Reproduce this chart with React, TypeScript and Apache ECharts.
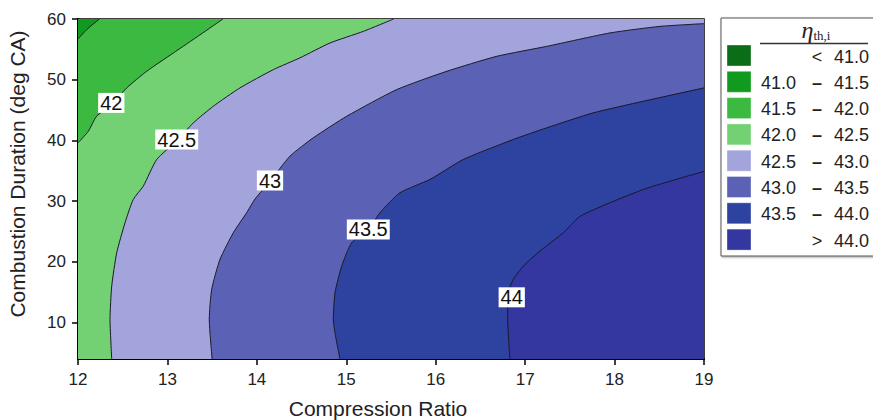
import React, { useEffect, useRef } from "react";
import * as echarts from "echarts";

// Axis extents and ticks
const X_MIN = 12;
const X_MAX = 19;
const Y_MIN = 4;
const Y_MAX = 60;
const yTicks = [10, 20, 30, 40, 50, 60];

// Iso-efficiency contour lines, [compression ratio, combustion duration]
const contour415 = [[12.0, 56.7], [12.1, 58.3], [12.24, 60]];
const contour42 = [
  [12.0, 39.6], [12.115, 41.5], [12.209, 44.0], [12.377, 45.9], [12.545, 48.65],
  [12.769, 51.4], [13.066, 54.4], [13.365, 57.4], [13.62, 60],
];
const contour425 = [
  [15.53, 60], [15.19, 57.96], [14.818, 56.05], [14.482, 53.6], [14.184, 51.66],
  [13.811, 48.65], [13.513, 45.63], [13.29, 42.9], [13.1, 39.87], [12.88, 36.86],
  [12.73, 32.47], [12.618, 30.28], [12.526, 26.45], [12.433, 21.5], [12.377, 16.0],
  [12.358, 10.54], [12.377, 4],
];
const contour43 = [
  [13.5, 4], [13.468, 10.54], [13.495, 15.48], [13.588, 20.41], [13.737, 24.8],
  [13.886, 28.09], [13.98, 30.36], [14.147, 33.24], [14.37, 37.4], [14.631, 40.43],
  [15.005, 43.98], [15.564, 48.37], [16.123, 51.38], [16.682, 53.85], [17.241, 55.49],
  [17.949, 57.7], [18.508, 58.78], [19, 59.23],
];
const contour435 = [
  [14.93, 4], [14.855, 10.54], [14.874, 14.93], [14.949, 19.31], [15.06, 23.16],
  [15.246, 25.35], [15.377, 28.09], [15.6, 31.38], [15.936, 33.57], [16.308, 36.86],
  [16.867, 40.15], [17.241, 42.07], [17.762, 44.54], [18.321, 46.45], [19, 48.65],
];
const contour44 = [
  [16.83, 4], [16.805, 10.54], [16.81, 14.93], [16.868, 17.12], [16.98, 19.31],
  [17.166, 21.78], [17.427, 24.8], [17.613, 27.48], [17.949, 29.74], [18.321, 31.92],
  [18.62, 33.29], [19, 34.9],
];
const contourLines = [contour415, contour42, contour425, contour43, contour435, contour44];

// In-plot contour labels
const labelLevels = [42, 42.5, 43, 43.5, 44];
const labelX = [12.372, 13.104, 14.147, 15.246, 16.85];
const labelY = [46.18, 40.15, 33.4, 25.35, 14.16];

// Legend bands
const legendLow = ["", "41.0", "41.5", "42.0", "42.5", "43.0", "43.5", ""];
const legendSym = ["<", "\u2013", "\u2013", "\u2013", "\u2013", "\u2013", "\u2013", ">"];
const legendHigh = ["41.0", "41.5", "42.0", "42.5", "43.0", "43.5", "44.0", "44.0"];
const bandColors = [
  "#0b6d18", "#109b1e", "#3cb940", "#73d173",
  "#a4a4dc", "#5b62b5", "#2e42a0", "#34379f",
];

const FONT = "'Liberation Sans', Arial, Helvetica, sans-serif";
const SERIF = "'Liberation Serif', 'DejaVu Serif', serif";

// Filled regions painted bottom-up: each layer is the area above one level
const fillLayers = [
  { band: 1, poly: [[X_MIN, Y_MIN], [X_MIN, Y_MAX], [X_MAX, Y_MAX], [X_MAX, Y_MIN]] },
  { band: 2, poly: [...contour415, [X_MAX, Y_MAX], [X_MAX, Y_MIN], [X_MIN, Y_MIN]] },
  { band: 3, poly: [...contour42, [X_MAX, Y_MAX], [X_MAX, Y_MIN], [X_MIN, Y_MIN]] },
  { band: 4, poly: [...contour425, [X_MAX, Y_MIN], [X_MAX, Y_MAX]] },
  { band: 5, poly: [...contour43, [X_MAX, Y_MIN]] },
  { band: 6, poly: [...contour435, [X_MAX, Y_MIN]] },
  { band: 7, poly: [...contour44, [X_MAX, Y_MIN]] },
];

function buildLegend() {
  const els: any[] = [];
  els.push({
    type: "rect",
    shape: { x: 721, y: 18, width: 170, height: 238 },
    style: {
      fill: "#fff", stroke: "#555", lineWidth: 1,
      shadowBlur: 2, shadowColor: "rgba(0,0,0,0.35)", shadowOffsetX: 1, shadowOffsetY: 1,
    },
    z: 10,
  });
  els.push({
    type: "text",
    x: 816,
    y: 42,
    style: {
      text: "{e|\u03b7}{s|th,i}",
      align: "center",
      verticalAlign: "bottom",
      rich: {
        e: { fontFamily: SERIF, fontStyle: "italic", fontSize: 24, fill: "#222", verticalAlign: "bottom" },
        s: { fontFamily: SERIF, fontSize: 13, fill: "#222", verticalAlign: "bottom" },
      },
    },
    z: 11,
  });
  els.push({
    type: "line",
    shape: { x1: 760, y1: 43.5, x2: 868, y2: 43.5 },
    style: { stroke: "#333", lineWidth: 1.5 },
    z: 11,
  });
  legendHigh.forEach((hi, i) => {
    const cy = 55.5 + i * 26.3;
    els.push({
      type: "rect",
      shape: { x: 727, y: cy - 10.5, width: 24, height: 21 },
      style: { fill: bandColors[i], stroke: "rgba(255,255,255,0.35)", lineWidth: 1 },
      z: 11,
    });
    const textStyle = { fontFamily: FONT, fontSize: 18, fill: "#222", verticalAlign: "middle" };
    if (legendLow[i]) {
      els.push({ type: "text", x: 761, y: cy + 1, style: { ...textStyle, text: legendLow[i], align: "left" }, z: 11 });
    }
    els.push({
      type: "text", x: 817, y: cy + 1,
      style: { ...textStyle, text: legendSym[i], align: "center", fontWeight: i > 0 && i < 7 ? "bold" : "normal" },
      z: 11,
    });
    els.push({ type: "text", x: 869, y: cy + 1, style: { ...textStyle, text: hi, align: "right" }, z: 11 });
  });
  return els;
}

export default function App() {
  const ref = useRef<HTMLDivElement>(null);

  useEffect(() => {
    if (!ref.current) return;
    const chart = echarts.init(ref.current, null, { renderer: "svg" });

    const fillSeries = {
      type: "custom",
      coordinateSystem: "cartesian2d",
      clip: true,
      silent: true,
      z: 1,
      data: fillLayers.map(() => [X_MIN, Y_MIN]),
      renderItem: (params: any, api: any) => {
        const layer = fillLayers[params.dataIndex];
        const points = layer.poly.map((p) => api.coord(p));
        return {
          type: "polygon",
          shape: { points },
          style: { fill: bandColors[layer.band], stroke: bandColors[layer.band], lineWidth: 0.5 },
        };
      },
    };

    const lineSeries = contourLines.map((c) => ({
      type: "line",
      data: c,
      showSymbol: false,
      silent: true,
      smooth: 0.2,
      z: 3,
      lineStyle: { color: "#1a1a26", width: 1 },
    }));

    const labelSeries = {
      type: "scatter",
      silent: true,
      z: 5,
      symbolSize: 0,
      itemStyle: { color: "#ffffff", opacity: 1 },
      data: labelLevels.map((lv, i) => ({ value: [labelX[i], labelY[i]], name: String(lv) })),
      label: {
        show: true,
        position: "inside",
        formatter: (p: any) => p.name,
        fontFamily: FONT,
        fontSize: 20,
        lineHeight: 20,
        color: "#111",
        opacity: 1,
        backgroundColor: "#ffffff",
        padding: [0, 2, 0, 2],
      },
    };

    chart.setOption({
      animation: false,
      backgroundColor: "#fff",
      grid: {
        left: 78,
        top: 19,
        right: 169,
        bottom: 61,
        show: true,
        borderColor: "#000",
        borderWidth: 1.5,
        outerBoundsMode: "none",
      },
      xAxis: {
        type: "value",
        min: X_MIN,
        max: X_MAX,
        interval: 1,
        name: "Compression Ratio",
        nameLocation: "middle",
        nameGap: 39,
        nameTextStyle: { fontFamily: FONT, fontSize: 21, color: "#222", padding: [0, 26, 0, 0] },
        axisLine: { show: true, lineStyle: { color: "#000", width: 2 } },
        axisTick: { show: true, length: 6, lineStyle: { color: "#000", width: 1.5 } },
        axisLabel: { fontFamily: FONT, fontSize: 17, color: "#222", margin: 12, showMinLabel: true, showMaxLabel: true },
        splitLine: { show: false },
      },
      yAxis: {
        type: "value",
        min: Y_MIN,
        max: Y_MAX,
        name: "Combustion Duration (deg CA)",
        nameLocation: "middle",
        nameGap: 50,
        nameTextStyle: { fontFamily: FONT, fontSize: 21, color: "#222", padding: [0, 0, 0, 30] },
        axisLine: { show: true, lineStyle: { color: "#000", width: 2 } },
        axisTick: { show: true, length: 6, customValues: yTicks, lineStyle: { color: "#000", width: 1.5 } },
        axisLabel: { fontFamily: FONT, fontSize: 17, color: "#222", margin: 12, customValues: yTicks },
        splitLine: { show: false },
      },
      series: [fillSeries, ...lineSeries, labelSeries],
      graphic: buildLegend(),
    });

    return () => chart.dispose();
  }, []);

  return (
    <div
      ref={ref}
      style={{ position: "fixed", left: 0, top: 0, width: 873, height: 420 }}
    />
  );
}
